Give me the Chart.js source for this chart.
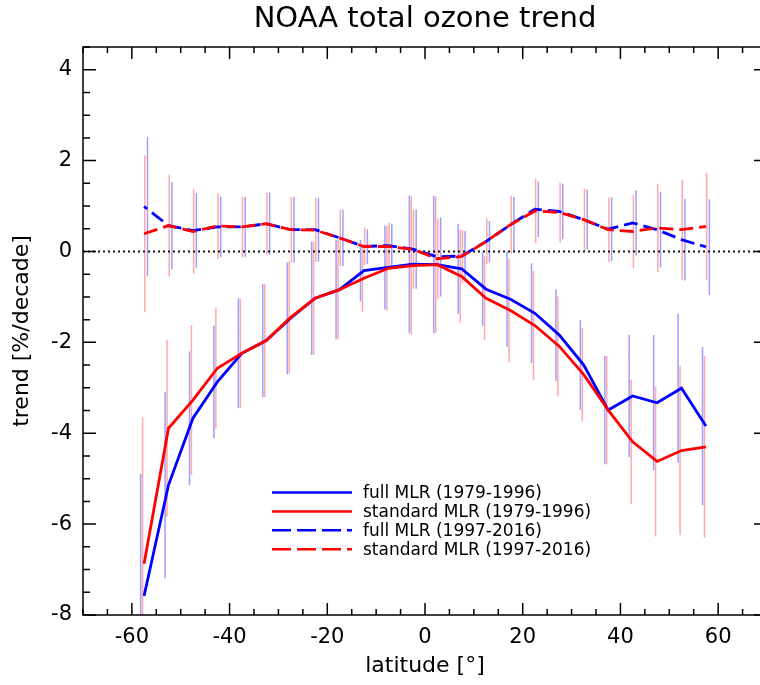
<!DOCTYPE html>
<html>
<head>
<meta charset="utf-8">
<script src="https://cdn.jsdelivr.net/npm/chart.js@4.4.1/dist/chart.umd.min.js"></script>
<style>
  html, body { margin: 0; padding: 0; background: #fff; overflow: hidden; }
  #wrap { width: 780px; height: 685px; }
</style>
</head>
<body>
<div id="wrap"><canvas id="ozoneChart"></canvas></div>
<script>
// latitude bands (5° bins)
const lat = [-57.5, -52.5, -47.5, -42.5, -37.5, -32.5, -27.5, -22.5, -17.5, -12.5, -7.5, -2.5,
             2.5, 7.5, 12.5, 17.5, 22.5, 27.5, 32.5, 37.5, 42.5, 47.5, 52.5, 57.5];

// trends [%/decade]
const fullEarly = [-7.58, -5.14, -3.67, -2.87, -2.24, -1.96, -1.47, -1.03, -0.84, -0.42, -0.35, -0.28,
                   -0.29, -0.38, -0.83, -1.05, -1.36, -1.84, -2.50, -3.49, -3.18, -3.33, -3.01, -3.84];
const stdEarly  = [-6.87, -3.89, -3.27, -2.57, -2.24, -1.96, -1.45, -1.03, -0.84, -0.59, -0.37, -0.31,
                   -0.29, -0.55, -1.03, -1.30, -1.63, -2.09, -2.71, -3.49, -4.19, -4.62, -4.38, -4.30];
const fullLate  = [0.99, 0.57, 0.46, 0.54, 0.54, 0.61, 0.48, 0.48, 0.30, 0.11, 0.13, 0.05,
                   -0.12, -0.10, 0.22, 0.59, 0.93, 0.88, 0.70, 0.49, 0.63, 0.48, 0.26, 0.10];
const stdLate   = [0.39, 0.57, 0.44, 0.56, 0.54, 0.61, 0.48, 0.47, 0.30, 0.11, 0.11, 0.05,
                   -0.16, -0.11, 0.22, 0.59, 0.89, 0.86, 0.70, 0.48, 0.44, 0.52, 0.48, 0.55];

// error bar half widths
const errFullEarly = [2.69, 2.05, 1.47, 1.24, 1.21, 1.24, 1.23, 1.25, 1.09, 0.68, 0.92, 1.52,
                      1.51, 0.99, 0.81, 1.05, 1.10, 1.01, 0.99, 1.19, 1.35, 1.49, 1.64, 1.74];
const errStdEarly  = [3.22, 1.95, 1.65, 1.33, 1.20, 1.24, 1.23, 1.25, 1.10, 0.73, 0.93, 1.52,
                      1.50, 1.02, 0.92, 1.14, 1.20, 1.10, 1.03, 1.19, 1.37, 1.65, 1.86, 2.00];
const errFullLate  = [1.53, 0.96, 0.82, 0.66, 0.66, 0.68, 0.72, 0.70, 0.62, 0.38, 0.48, 0.87,
                      0.87, 0.55, 0.45, 0.61, 0.61, 0.61, 0.66, 0.70, 0.72, 0.83, 0.90, 1.05];
const errStdLate   = [1.73, 1.12, 0.93, 0.72, 0.67, 0.69, 0.72, 0.70, 0.62, 0.41, 0.52, 0.87,
                      0.88, 0.58, 0.50, 0.64, 0.71, 0.66, 0.68, 0.71, 0.81, 0.97, 1.10, 1.18];

const seriesLabels = ["full MLR (1979-1996)", "standard MLR (1979-1996)",
                      "full MLR (1997-2016)", "standard MLR (1997-2016)"];

const xTicks = [-60, -40, -20, 0, 20, 40, 60];
const yTicks = [-8, -6, -4, -2, 0, 2, 4];

const BLUE = "#0000ff";
const RED = "#ff0000";
const FONT = "'DejaVu Sans', sans-serif";

Chart.defaults.font.family = FONT;
Chart.defaults.color = "#000";

function pts(vals) {
  return lat.map((x, i) => ({ x: x, y: vals[i] }));
}

// vertical error bars: two points per bar, broken by a null
function bars(vals, errs, off) {
  const out = [];
  lat.forEach((x, i) => {
    out.push({ x: x + off, y: vals[i] - errs[i] });
    out.push({ x: x + off, y: vals[i] + errs[i] });
    out.push({ x: x + off, y: null });
  });
  return out;
}

function barSet(data, color, order) {
  return {
    data: data,
    borderColor: color,
    borderWidth: 1.5,
    pointRadius: 0,
    spanGaps: false,
    tension: 0,
    order: order,
  };
}

/* ===== frame + inward ticks ===== */
const framePlugin = {
  id: "frame",
  afterDraw(chart) {
    const { ctx, chartArea: a, scales } = chart;
    const xs = scales.x, ys = scales.y;
    ctx.save();
    ctx.strokeStyle = "#000";
    ctx.lineWidth = 1.5;
    ctx.strokeRect(a.left, a.top, a.right - a.left, a.bottom - a.top);
    ctx.beginPath();
    for (let v = -70; v <= 70; v += 5) {
      const px = xs.getPixelForValue(v);
      const len = v % 20 === 0 && v !== 0 ? 12 : (v === 0 ? 12 : 6);
      ctx.moveTo(px, a.bottom); ctx.lineTo(px, a.bottom - len);
      ctx.moveTo(px, a.top); ctx.lineTo(px, a.top + len);
    }
    for (let v = -8; v <= 4.5; v += 0.5) {
      const py = ys.getPixelForValue(v);
      const len = v % 2 === 0 ? 13 : 7;
      ctx.moveTo(a.left, py); ctx.lineTo(a.left + len, py);
      ctx.moveTo(a.right, py); ctx.lineTo(a.right - len, py);
    }
    ctx.stroke();
    ctx.restore();
  },
};

/* ===== legend inside the plot ===== */
const legendPlugin = {
  id: "innerLegend",
  afterDraw(chart) {
    const { ctx, chartArea: a } = chart;
    const x0 = a.left + 189, x1 = a.left + 269, tx = a.left + 280;
    const y0 = a.top + 445.5, dy = 18.9;
    ctx.save();
    ctx.font = "17px " + FONT;
    ctx.textBaseline = "middle";
    ctx.fillStyle = "#000";
    chart.data.datasets.slice(0, 4).forEach((ds, i) => {
      const y = y0 + i * dy;
      ctx.strokeStyle = ds.borderColor;
      ctx.lineWidth = 2.5;
      ctx.setLineDash(ds.borderDash ? [19, 6] : []);
      ctx.beginPath();
      ctx.moveTo(x0, y); ctx.lineTo(x1, y);
      ctx.stroke();
      ctx.fillText(ds.label, tx, y + 1);
    });
    ctx.restore();
  },
};

const ctx = document.getElementById("ozoneChart").getContext("2d");

new Chart(ctx, {
  type: "line",
  data: {
    datasets: [
      { label: seriesLabels[0], data: pts(fullEarly), borderColor: BLUE, borderWidth: 2.8,
        pointRadius: 0, tension: 0, order: 3 },
      { label: seriesLabels[1], data: pts(stdEarly), borderColor: RED, borderWidth: 2.8,
        pointRadius: 0, tension: 0, order: 1 },
      { label: seriesLabels[2], data: pts(fullLate), borderColor: BLUE, borderWidth: 2.8,
        borderDash: [14, 6], borderDashOffset: 10, pointRadius: 0, tension: 0, order: 2 },
      { label: seriesLabels[3], data: pts(stdLate), borderColor: RED, borderWidth: 2.8,
        borderDash: [14, 6], pointRadius: 0, tension: 0, order: 0 },
      // zero line
      { data: [{ x: -70, y: 0 }, { x: 70, y: 0 }], borderColor: "#111", borderWidth: 2,
        borderDash: [2, 3], pointRadius: 0, order: 4 },
      barSet(bars(fullEarly, errFullEarly, -0.7), "rgba(40,40,255,0.45)", 5),
      barSet(bars(stdEarly, errStdEarly, -0.3), "rgba(255,40,40,0.4)", 6),
      barSet(bars(stdLate, errStdLate, 0.15), "rgba(255,40,40,0.4)", 7),
      barSet(bars(fullLate, errFullLate, 0.7), "rgba(40,40,255,0.45)", 8),
    ],
  },
  options: {
    responsive: true,
    maintainAspectRatio: false,
    animation: false,
    layout: { padding: { top: 0, right: 13, bottom: 0, left: 0 } },
    scales: {
      x: {
        type: "linear",
        min: -70,
        max: 70,
        afterBuildTicks: (s) => { s.ticks = xTicks.map((v) => ({ value: v })); },
        afterFit: (s) => { s.height = 70; },
        grid: { display: false, drawTicks: false },
        border: { display: false },
        ticks: { autoSkip: false, maxRotation: 0, padding: 10, color: "#000",
                 font: { size: 21 } },
        title: { display: true, text: "latitude [°]", color: "#000",
                 font: { size: 22 }, padding: { top: 0, bottom: 6 } },
      },
      y: {
        type: "linear",
        min: -8,
        max: 4.5,
        afterBuildTicks: (s) => { s.ticks = yTicks.map((v) => ({ value: v })); },
        afterFit: (s) => { s.width = 83; },
        grid: { display: false, drawTicks: false },
        border: { display: false },
        ticks: { autoSkip: false, padding: 11, color: "#000", font: { size: 21 } },
        title: { display: true, text: "trend [%/decade]", color: "#000",
                 font: { size: 22 }, padding: { top: 9, bottom: 0 } },
      },
    },
    plugins: {
      legend: { display: false },
      tooltip: { enabled: false },
      title: {
        display: true,
        fullSize: false,
        text: "NOAA total ozone trend",
        color: "#000",
        font: { size: 29, weight: "normal" },
        padding: { top: 2, bottom: 10.2 },
      },
    },
  },
  plugins: [framePlugin, legendPlugin],
});
</script>
</body>
</html>
